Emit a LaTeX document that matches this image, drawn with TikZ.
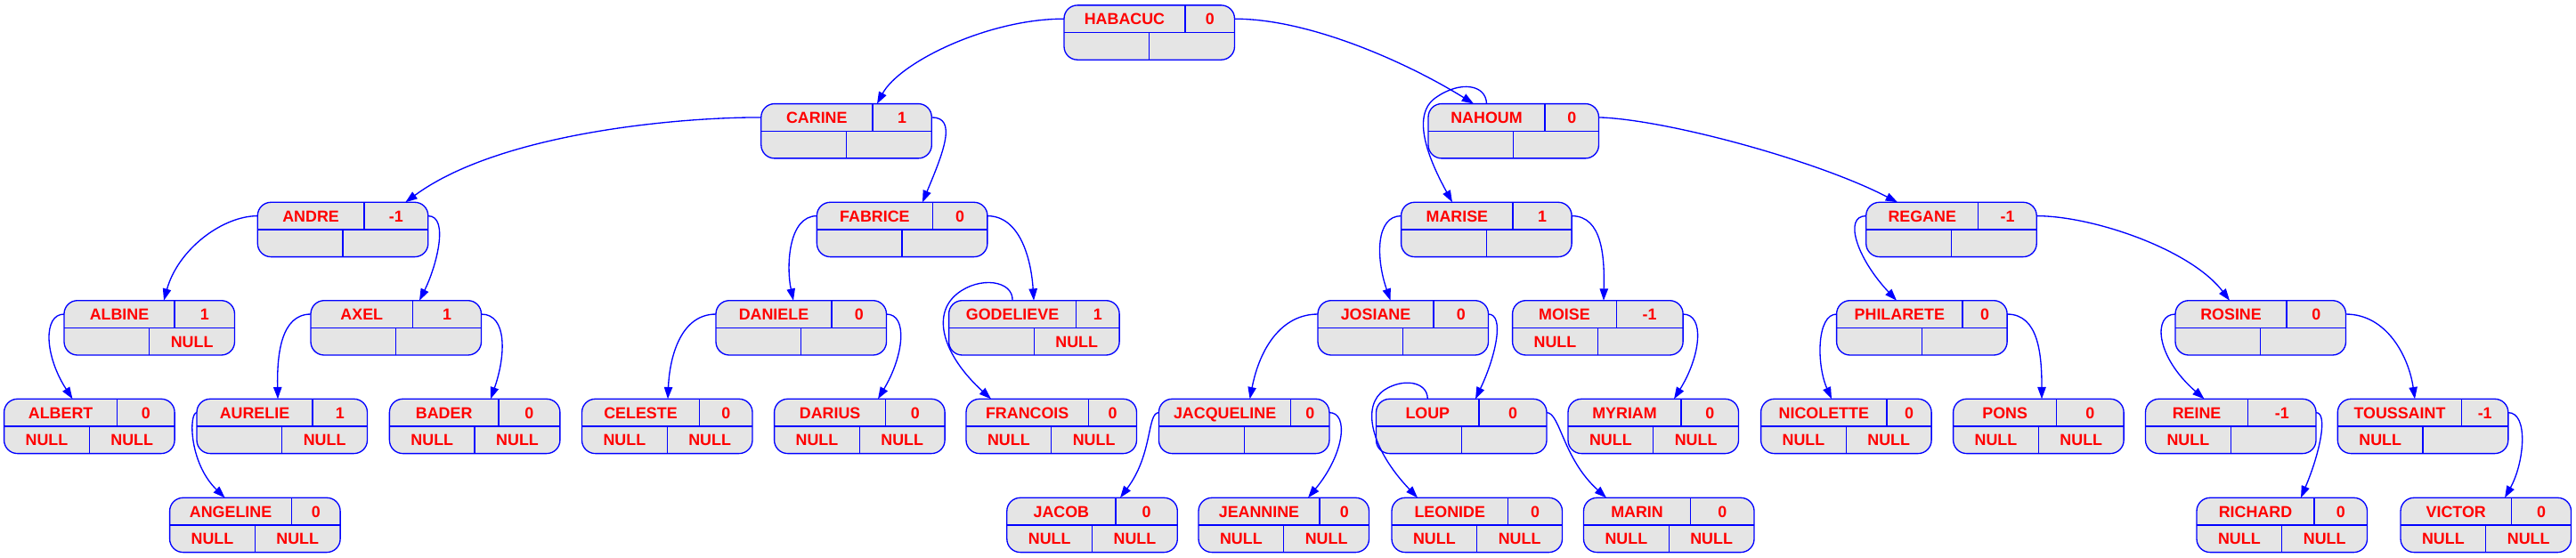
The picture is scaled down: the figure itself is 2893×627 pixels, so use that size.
\documentclass[tikz,border=0pt]{standalone}
\usepackage{fontspec}
\setmainfont{Liberation Sans}
\usetikzlibrary{arrows.meta,calc}
\definecolor{recgray}{HTML}{E5E5E5}
\newlength\namewd
\newlength\balwd
\newcommand\recfont{\fontsize{13.4}{16}\selectfont\bfseries}
\tikzset{
  rec/.style={draw=blue, fill=recgray, line width=1pt, rounded corners=11.25pt,
    minimum width=143.625pt, minimum height=45.975pt, inner sep=0pt, outer sep=0pt, anchor=north west},
  field/.style={inner sep=0pt, outer sep=0pt, minimum height=22.99pt, text=red, font=\recfont,
    text height=9.6pt, text depth=0pt},
  recline/.style={draw=blue, line width=1pt},
  link/.style={draw=blue, line width=1pt, -{Triangle[length=10pt,width=7pt]}},
}
\newcommand\rec[7]{%
  \pgfinterruptpicture
    \settowidth\namewd{\recfont #4}\global\namewd=\namewd
    \settowidth\balwd{\recfont #5}\global\balwd=\balwd
  \endpgfinterruptpicture
  \pgfmathsetmacro\recsplit{(143.625pt+\namewd-\balwd)/2}%
  \pgfmathsetmacro\recrest{143.625-\recsplit}%
  \node[rec] (#1) at (#2,#3) {};
  \node[field, minimum width=\recsplit pt, anchor=north west] (#1-n) at (#1.north west) {#4};
  \node[field, minimum width=\recrest pt, anchor=north east] (#1-b) at (#1.north east) {#5};
  \node[field, minimum width=71.8pt, anchor=south west] (#1-l) at (#1.south west) {#6};
  \node[field, minimum width=71.8pt, anchor=south east] (#1-r) at (#1.south east) {#7};
  \draw[recline] (#1.west) -- (#1.east) (#1-n.north east) -- (#1-n.south east) (#1.south) -- (#1.center);
}
\begin{document}
\begin{tikzpicture}[x=0.75pt, y=-0.75pt]
  \useasboundingbox (0,0) rectangle (2893,627);

  \rec{habacuc}{1195}{5.9}{HABACUC}{0}{}{}

  \rec{carine}{854.8}{116.6}{CARINE}{1}{}{}
  \rec{nahoum}{1604}{116.6}{NAHOUM}{0}{}{}

  \rec{andre}{289.3}{227.3}{ANDRE}{-1}{}{}
  \rec{fabrice}{917.4}{227.3}{FABRICE}{0}{}{}
  \rec{marise}{1573.6}{227.3}{MARISE}{1}{}{}
  \rec{regane}{2095.7}{227.3}{REGANE}{-1}{}{}

  \rec{albine}{72}{337.7}{ALBINE}{1}{}{NULL}
  \rec{axel}{349}{337.7}{AXEL}{1}{}{}
  \rec{daniele}{804}{337.7}{DANIELE}{0}{}{}
  \rec{godelieve}{1065.6}{337.7}{GODELIEVE}{1}{}{NULL}
  \rec{josiane}{1480}{337.7}{JOSIANE}{0}{}{}
  \rec{moise}{1698.6}{337.7}{MOISE}{-1}{NULL}{}
  \rec{philarete}{2062.6}{337.7}{PHILARETE}{0}{}{}
  \rec{rosine}{2443}{337.7}{ROSINE}{0}{}{}

  \rec{albert}{4.6}{448.3}{ALBERT}{0}{NULL}{NULL}
  \rec{aurelie}{221}{448.3}{AURELIE}{1}{}{NULL}
  \rec{bader}{437.4}{448.3}{BADER}{0}{NULL}{NULL}
  \rec{celeste}{653.5}{448.3}{CELESTE}{0}{NULL}{NULL}
  \rec{darius}{869.6}{448.3}{DARIUS}{0}{NULL}{NULL}
  \rec{francois}{1085}{448.3}{FRANCOIS}{0}{NULL}{NULL}
  \rec{jacqueline}{1301.4}{448.3}{JACQUELINE}{0}{}{}
  \rec{loup}{1545.5}{448.3}{LOUP}{0}{}{}
  \rec{myriam}{1761}{448.3}{MYRIAM}{0}{NULL}{NULL}
  \rec{nicolette}{1977.6}{448.3}{NICOLETTE}{0}{NULL}{NULL}
  \rec{pons}{2193.6}{448.3}{PONS}{0}{NULL}{NULL}
  \rec{reine}{2409.5}{448.3}{REINE}{-1}{NULL}{}
  \rec{toussaint}{2625.3}{448.3}{TOUSSAINT}{-1}{NULL}{}

  \rec{angeline}{190.6}{559.3}{ANGELINE}{0}{NULL}{NULL}
  \rec{jacob}{1130.8}{559.3}{JACOB}{0}{NULL}{NULL}
  \rec{jeannine}{1346}{559.3}{JEANNINE}{0}{NULL}{NULL}
  \rec{leonide}{1563}{559.3}{LEONIDE}{0}{NULL}{NULL}
  \rec{marin}{1778.5}{559.3}{MARIN}{0}{NULL}{NULL}
  \rec{richard}{2467}{559.3}{RICHARD}{0}{NULL}{NULL}
  \rec{victor}{2696}{559.3}{VICTOR}{0}{NULL}{NULL}

  \draw[link] (habacuc-n.west) .. controls (1110,21) and (1010,70) .. ($(carine.north west)+(130.2,0)$);
  \draw[link] (habacuc-b.east) .. controls (1470,21) and (1580,70) .. ($(nahoum.north west)+(51,0)$);
  \draw[link] (nahoum-n.north) .. controls (1669,95) and (1640,90) .. (1612,110) .. controls (1584,130) and (1605,180) .. ($(marise.north west)+(57.4,0)$);
  \draw[link] (nahoum-b.east) .. controls (1870,134) and (2040,180) .. ($(regane.north west)+(35.3,0)$);

  \draw[link] (carine-n.west) .. controls (760,131.7) and (560,150) .. ($(andre.north west)+(166,0)$);
  \draw[link] (carine-b.east) .. controls (1075,131.7) and (1060,170) .. ($(fabrice.north west)+(118.6,0)$);
  \draw[link] (andre-n.west) .. controls (250,242.6) and (200,280) .. ($(albine.north west)+(112,0)$);
  \draw[link] (andre-b.east) .. controls (505,242.6) and (490,300) .. ($(axel.north west)+(122,0)$);
  \draw[link] (fabrice-n.west) .. controls (885,242.6) and (883,300) .. ($(daniele.north west)+(87,0)$);
  \draw[link] (fabrice-b.east) .. controls (1145,242.6) and (1158,290) .. ($(godelieve.north west)+(95.4,0)$);
  \draw[link] (marise-n.west) .. controls (1545,242.6) and (1545,290) .. ($(josiane.north west)+(81.6,0)$);
  \draw[link] (marise-b.east) .. controls (1800,242.6) and (1802,290) .. ($(moise.north west)+(102.4,0)$);
  \draw[link] (regane-n.west) .. controls (2070,242.6) and (2085,290) .. ($(philarete.north west)+(67.4,0)$);
  \draw[link] (regane-b.east) .. controls (2350,242.6) and (2460,280) .. ($(rosine.north west)+(61,0)$);

  \draw[link] (albine-n.west) .. controls (48,353) and (50,400) .. ($(albert.north west)+(76.9,0)$);
  \draw[link] (axel-n.west) .. controls (315,353) and (311,400) .. ($(aurelie.north west)+(91,0)$);
  \draw[link] (axel-b.east) .. controls (570,353) and (568,400) .. ($(bader.north west)+(113.6,0)$);
  \draw[link] (daniele-n.west) .. controls (765,353) and (752,400) .. ($(celeste.north west)+(96.5,0)$);
  \draw[link] (daniele-b.east) .. controls (1020,353) and (1015,400) .. ($(darius.north west)+(116.4,0)$);
  \draw[link] (godelieve-n.north) .. controls (1138,315) and (1100,310) .. (1075,330) .. controls (1045,354) and (1060,400) .. ($(francois.north west)+(28,0)$);
  \draw[link] (josiane-n.west) .. controls (1440,353) and (1415,390) .. ($(jacqueline.north west)+(102.2,0)$);
  \draw[link] (josiane-b.east) .. controls (1690,353) and (1680,400) .. ($(loup.north west)+(111.5,0)$);
  \draw[link] (moise-b.east) .. controls (1915,353) and (1910,400) .. ($(myriam.north west)+(119,0)$);
  \draw[link] (philarete-n.west) .. controls (2040,353) and (2040,410) .. ($(nicolette.north west)+(79.4,0)$);
  \draw[link] (philarete-b.east) .. controls (2290,353) and (2293,400) .. ($(pons.north west)+(99.4,0)$);
  \draw[link] (rosine-n.west) .. controls (2418,353) and (2420,400) .. ($(reine.north west)+(66,0)$);
  \draw[link] (rosine-b.east) .. controls (2680,353) and (2705,400) .. ($(toussaint.north west)+(86.7,0)$);

  \draw[link] (aurelie-n.west) .. controls (212,463.6) and (212,520) .. ($(angeline.north west)+(62,0)$);
  \draw[link] (jacqueline-n.west) .. controls (1288,463.6) and (1295,510) .. ($(jacob.north west)+(127.2,0)$);
  \draw[link] (jacqueline-b.east) .. controls (1515,463.6) and (1510,510) .. ($(jeannine.north west)+(123,0)$);
  \draw[link] (loup-n.north) .. controls (1603,428) and (1575,425) .. (1555,438) .. controls (1528,455.5) and (1540,505) .. ($(leonide.north west)+(29,0)$);
  \draw[link] (loup-b.east) .. controls (1752,463.6) and (1755,515) .. ($(marin.north west)+(25.5,0)$);
  \draw[link] (reine-b.east) .. controls (2615,463.6) and (2605,510) .. ($(richard.north west)+(117,0)$);
  \draw[link] (toussaint-b.east) .. controls (2840,463.6) and (2835,520) .. ($(victor.north west)+(117,0)$);
\end{tikzpicture}
\end{document}
